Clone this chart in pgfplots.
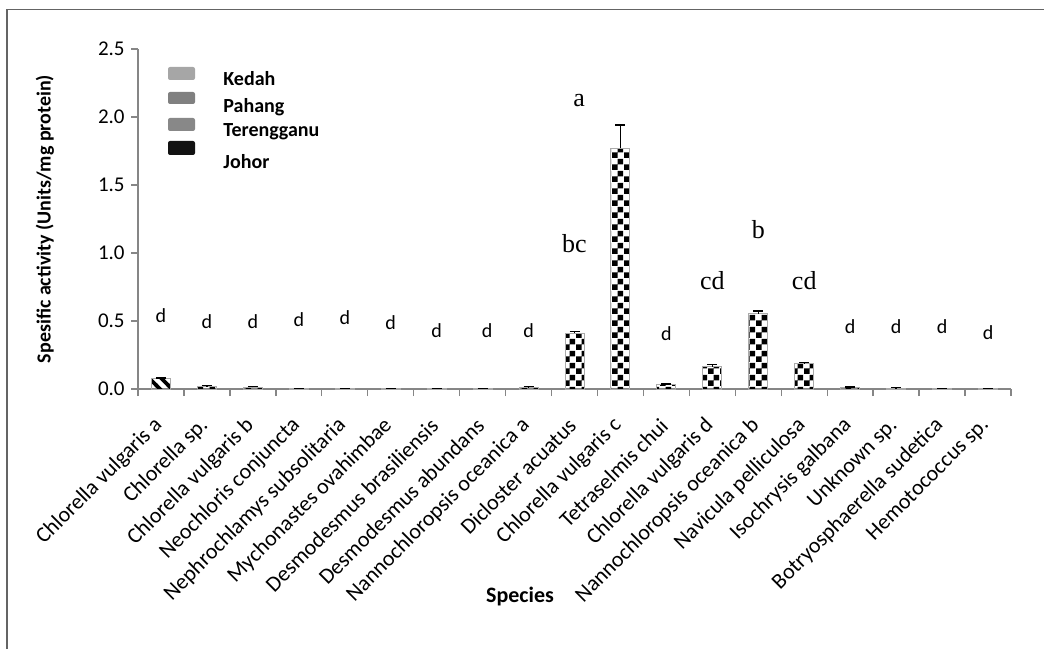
\documentclass[border=0pt]{standalone}
\usepackage{pgfplots}
\pgfplotsset{compat=1.18}
\usepackage{pgfplotstable}
\usepackage{fontspec}
\setmainfont{Carlito}
\newfontfamily\serifletters{Liberation Serif}
\usetikzlibrary{patterns}
\definecolor{axisgray}{RGB}{134,134,134}
\definecolor{framegray}{RGB}{100,100,100}
\definecolor{barline}{RGB}{170,170,170}
\definecolor{kedah}{RGB}{166,166,166}
\definecolor{pahang}{RGB}{128,128,128}
\definecolor{tereng}{RGB}{136,136,136}
\definecolor{johor}{RGB}{18,18,18}

\pgfdeclarepatternformonly{mycheck}{\pgfpointorigin}{\pgfpoint{6pt}{6pt}}{\pgfpoint{6pt}{6pt}}{%
  \pgfpathrectangle{\pgfpointorigin}{\pgfpoint{3pt}{3pt}}%
  \pgfpathrectangle{\pgfpoint{3pt}{3pt}}{\pgfpoint{3pt}{3pt}}%
  \pgfusepath{fill}}
\pgfdeclarepatternformonly{mystripe}{\pgfpoint{-1pt}{-1pt}}{\pgfpoint{7pt}{7pt}}{\pgfpoint{6pt}{6pt}}{%
  \pgfsetlinewidth{1.8pt}%
  \pgfpathmoveto{\pgfpoint{-1pt}{7pt}}\pgfpathlineto{\pgfpoint{7pt}{-1pt}}%
  \pgfusepath{stroke}}

\pgfplotstableread{
x y e
0 0.080 0.000
}\tblStripe
\pgfplotstableread{
x y e
1 0.015 0.010
2 0.012 0.008
3 0.003 0.000
4 0.003 0.000
5 0.002 0.000
6 0.002 0.000
7 0.002 0.000
8 0.010 0.008
9 0.410 0.012
10 1.770 0.170
11 0.030 0.006
12 0.165 0.015
13 0.555 0.020
14 0.185 0.012
15 0.010 0.005
16 0.006 0.003
17 0.003 0.000
18 0.002 0.000
}\tblCheck

\begin{document}
\begin{tikzpicture}
\useasboundingbox (0,0) rectangle (522pt,324.5pt);
\draw[framegray, line width=0.8pt] (3.5pt,0) -- (3.5pt,319.75pt) -- (522pt,319.75pt);
\begin{axis}[
  at={(69pt,130pt)}, anchor=south west,
  scale only axis, width=436.5pt, height=170pt,
  xmin=-0.5, xmax=18.5, ymin=0, ymax=2.5,
  axis lines=left,
  axis line style={-, draw=axisgray, line width=0.7pt},
  tick align=outside,
  major tick length=3.5pt, minor tick length=3.5pt,
  ytick={0,0.5,1,1.5,2,2.5},
  yticklabels={0.0,0.5,1.0,1.5,2.0,2.5},
  ytick style={draw=axisgray, line width=0.7pt},
  yticklabel style={font=\fontsize{10.5}{12}\selectfont, inner sep=0pt, xshift=-3pt},
  xtick={0,...,18},
  xtick style={draw=none},
  minor xtick={-0.5,0.5,1.5,2.5,3.5,4.5,5.5,6.5,7.5,8.5,9.5,10.5,11.5,12.5,13.5,14.5,15.5,16.5,17.5,18.5},
  minor x tick style={draw=axisgray, line width=0.7pt},
  xticklabels={Chlorella vulgaris a, Chlorella sp., Chlorella vulgaris b, Neochloris conjuncta, Nephrochlamys subsolitaria, Mychonastes ovahimbae, Desmodesmus brasiliensis, Desmodesmus abundans, Nannochloropsis oceanica a, Dicloster acuatus, Chlorella vulgaris c, Tetraselmis chui, Chlorella vulgaris d, Nannochloropsis oceanica b, Navicula pelliculosa, Isochrysis galbana, Unknown sp., Botryosphaerella sudetica, Hemotococcus sp.},
  xticklabel style={font=\fontsize{11}{13}\selectfont, yshift=-13pt, xshift=-1pt, rotate=45, anchor=east, inner sep=0pt},
  xlabel={Species},
  xlabel style={font=\bfseries\fontsize{11}{13}\selectfont, at={(axis description cs:0.4376,0)}, yshift=-104pt, anchor=center},
  ylabel={Spesific activity (Units/mg protein)},
  ylabel style={font=\bfseries\fontsize{10}{12}\selectfont, at={(axis description cs:-0.1065,0.5)}, anchor=center},
  ybar, bar width=9.5pt, bar shift=0pt,
  clip=false,
]
\addplot[draw=barline, line width=0.5pt, pattern=mystripe, pattern color=black,
  error bars/.cd, y dir=plus, y explicit,
  error bar style={black, line width=0.7pt},
  error mark options={black, rotate=90, mark size=2.5pt, line width=0.7pt}]
  table[x=x, y=y, y error=e] {\tblStripe};
\addplot[draw=barline, line width=0.5pt, pattern=mycheck, pattern color=black,
  error bars/.cd, y dir=plus, y explicit,
  error bar style={black, line width=0.7pt},
  error mark options={black, rotate=90, mark size=2.5pt, line width=0.7pt}]
  table[x=x, y=y, y error=e] {\tblCheck};
% significance letters
\begin{scope}[every node/.style={font=\fontsize{10}{12}\selectfont, inner sep=0pt}]
\node at (axis cs:0,0.537) {d};
\node at (axis cs:1,0.493) {d};
\node at (axis cs:2,0.493) {d};
\node at (axis cs:3,0.507) {d};
\node at (axis cs:4,0.522) {d};
\node at (axis cs:5,0.485) {d};
\node at (axis cs:6,0.426) {d};
\node at (axis cs:7.1,0.426) {d};
\node at (axis cs:8,0.426) {d};
\node at (axis cs:11,0.404) {d};
\node at (axis cs:15,0.456) {d};
\node at (axis cs:16,0.456) {d};
\node at (axis cs:17,0.456) {d};
\node at (axis cs:18,0.412) {d};
\end{scope}
\begin{scope}[every node/.style={font=\serifletters\fontsize{13}{15}\selectfont, inner sep=0pt}]
\node at (axis cs:9,1.07) {bc};
\node at (axis cs:9.1,2.12) {a};
\node at (axis cs:12,0.80) {cd};
\node at (axis cs:13,1.17) {b};
\node at (axis cs:14,0.80) {cd};
\end{scope}
\end{axis}
% legend
\fill[kedah, rounded corners=1pt] (84pt,284.5pt) rectangle (97.5pt,291pt);
\fill[pahang, rounded corners=1pt] (84pt,272.5pt) rectangle (97.5pt,278.5pt);
\fill[tereng, rounded corners=1pt] (84pt,259pt) rectangle (97.5pt,265.5pt);
\fill[johor, rounded corners=1pt] (84pt,247pt) rectangle (97.5pt,254pt);
\begin{scope}[every node/.style={font=\bfseries\fontsize{10}{12}\selectfont, anchor=base west, inner sep=0pt}]
\node at (111.5pt,281.5pt) {Kedah};
\node at (111.5pt,268pt) {Pahang};
\node at (111.5pt,256pt) {Terengganu};
\node at (111.5pt,240pt) {Johor};
\end{scope}
\end{tikzpicture}
\end{document}
